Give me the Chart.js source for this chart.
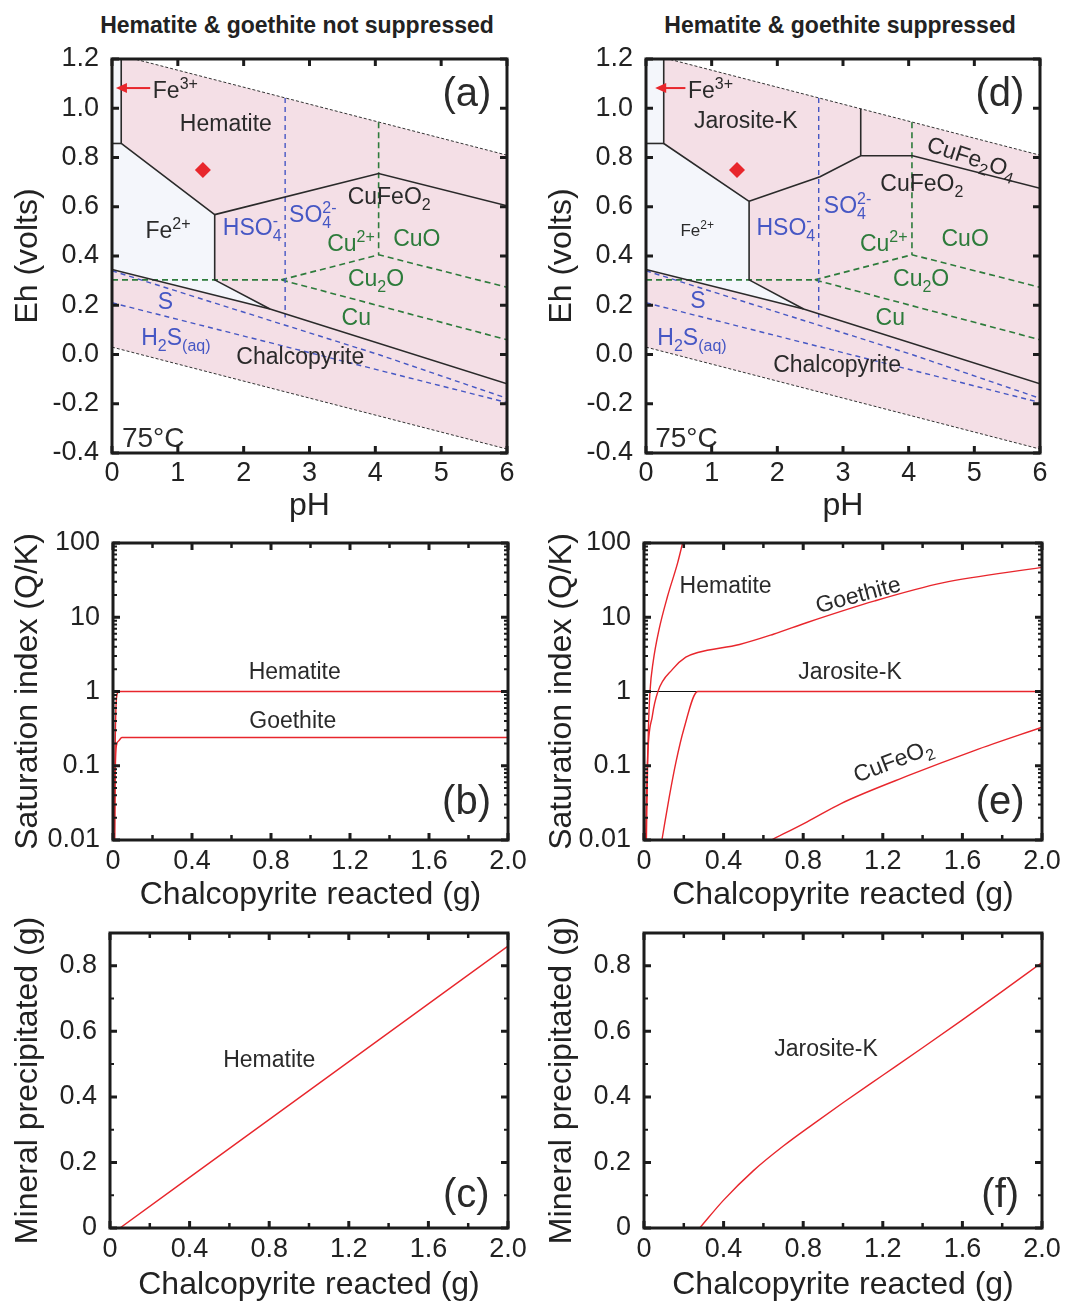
<!DOCTYPE html>
<html>
<head>
<meta charset="utf-8">
<script src="https://cdn.jsdelivr.net/npm/chart.js@4.4.1/dist/chart.umd.min.js"></script>
<style>
  body { margin: 0; background: #fff; width: 1066px; height: 1303px; position: relative; overflow: hidden;
         font-family: 'Liberation Sans', Arial, sans-serif; }
  .panel { position: absolute; }
  .head { position: absolute; top: 12px; font-weight: bold; font-size: 23px; color: #222;
          transform: translateX(-50%); white-space: nowrap; }
</style>
</head>
<body>
<div class="head" style="left:297px">Hematite &amp; goethite not suppressed</div>
<div class="head" style="left:840px">Hematite &amp; goethite suppressed</div>
<div class="panel" style="left:0;top:40px;width:530px;height:485px"><canvas id="pa"></canvas></div>
<div class="panel" style="left:534px;top:40px;width:530px;height:485px"><canvas id="pd"></canvas></div>
<div class="panel" style="left:0;top:525px;width:530px;height:390px"><canvas id="pb"></canvas></div>
<div class="panel" style="left:534px;top:525px;width:530px;height:390px"><canvas id="pe"></canvas></div>
<div class="panel" style="left:0;top:915px;width:530px;height:388px"><canvas id="pc"></canvas></div>
<div class="panel" style="left:534px;top:915px;width:530px;height:388px"><canvas id="pf"></canvas></div>
<script>
// ---- Eh-pH diagrams, points are [pH, Eh (V)] ----
const waterUpper = [[0, 1.2235], [6, 0.8095]];
const waterLower = [[0, 0.03], [6, -0.384]];
const waterField = [[0, 1.2235], [6, 0.8095], [6, -0.384], [0, 0.03]];
const chalcopyriteEdge = [[0, 0.345], [2.4, 0.185], [6, -0.119]];
const sulfateEdge = [[2.63, 1.042], [2.63, 0.15]];
const sulfurUpper = [[0, 0.34], [4.07, -0.002], [6, -0.178]];
const sulfurLower = [[0, 0.21], [6, -0.195]];
const cuMetalEdge = [[0, 0.303], [2.57, 0.303], [6, 0.06]];
const cu2oEdge = [[2.57, 0.303], [4.05, 0.405], [6, 0.273]];
const cuoEdge = [[4.05, 0.943], [4.05, 0.405]];

// (a) hematite & goethite allowed
const aFe3Field = [[0, 1.2235], [0.14, 1.2235], [0.14, 0.857], [0, 0.857]];
const aFe2Field = [[0, 0.857], [0.14, 0.857], [1.56, 0.568], [1.56, 0.303], [2.4, 0.185], [0, 0.345]];
const aFe3Floor = [[0, 0.857], [0.14, 0.857]];
const aHematiteEdge = [[0.14, 1.2235], [0.14, 0.857], [1.56, 0.568], [1.56, 0.303], [2.4, 0.185]];
const aCuFeO2Edge = [[1.56, 0.568], [4.05, 0.735], [6, 0.604]];
const aSample = [[1.38, 0.749]];

// (d) hematite & goethite suppressed
const dFe3Field = [[0, 1.2235], [0.27, 1.2235], [0.27, 0.857], [0, 0.857]];
const dFe2Field = [[0, 0.857], [0.27, 0.857], [1.57, 0.622], [1.57, 0.303], [2.4, 0.185], [0, 0.345]];
const dFe3Floor = [[0, 0.857], [0.27, 0.857]];
const dJarositeEdge = [[0.27, 1.2235], [0.27, 0.857], [1.57, 0.622], [1.57, 0.303], [2.4, 0.185]];
const dCuFeO2Edge = [[1.57, 0.622], [2.65, 0.722], [3.27, 0.807], [4.06, 0.807], [6, 0.675]];
const dCuFe2O4Edge = [[3.27, 0.998], [3.27, 0.807]];
const dSample = [[1.386, 0.749]];

// ---- saturation index vs chalcopyrite reacted (g) ----
const bHematite = [[0.008, 0.01], [0.01, 0.1], [0.014, 0.5], [0.02, 0.9], [0.03, 1.0], [2.0, 1.0]];
const bGoethite = [[0.008, 0.01], [0.012, 0.1], [0.02, 0.2], [0.028, 0.215], [0.045, 0.24], [2.0, 0.24]];
const eHematite = [[0.012, 0.01], [0.018, 0.1], [0.022, 0.31], [0.03, 1], [0.046, 2.5], [0.076, 6.9], [0.118, 19], [0.169, 54], [0.194, 100]];
const eGoethite = [[0.008, 0.01], [0.017, 0.11], [0.042, 0.47], [0.07, 1.0], [0.144, 2.0], [0.21, 2.9], [0.27, 3.35], [0.48, 4.3], [0.65, 5.9], [0.82, 8.5], [1.16, 16.6], [1.5, 29], [2.0, 47]];
const eJarosite = [[0.09, 0.01], [0.127, 0.038], [0.16, 0.11], [0.2, 0.31], [0.27, 1], [2.0, 1]];
const eUnity = [[0, 1], [0.27, 1]];
const eCuFeO2 = [[0.64, 0.01], [0.82, 0.0176], [0.99, 0.031], [1.33, 0.074], [1.66, 0.16], [2.0, 0.33]];

// ---- mineral precipitated (g) ----
const cHematite = [[0.05, 0], [1.0, 0.419], [2.0, 0.86]];
const fJarosite = [[0.28, 0], [0.4, 0.085], [0.55, 0.175], [0.7, 0.25], [0.85, 0.317], [1.0, 0.382], [1.2, 0.466], [1.4, 0.55], [1.6, 0.635], [1.8, 0.722], [2.0, 0.81]];

// ---- ticks ----
const phTicks = [0, 1, 2, 3, 4, 5, 6];
const phLabels = ['0', '1', '2', '3', '4', '5', '6'];
const ehTicks = [-0.4, -0.2, 0, 0.2, 0.4, 0.6, 0.8, 1.0, 1.2];
const ehLabels = ['-0.4', '-0.2', '0.0', '0.2', '0.4', '0.6', '0.8', '1.0', '1.2'];
const massTicks = [0, 0.4, 0.8, 1.2, 1.6, 2.0];
const massLabels = ['0', '0.4', '0.8', '1.2', '1.6', '2.0'];
const massMinor = [0.2, 0.6, 1.0, 1.4, 1.8];
const siTicks = [0.01, 0.1, 1, 10, 100];
const siLabels = ['0.01', '0.1', '1', '10', '100'];
const precTicks = [0, 0.2, 0.4, 0.6, 0.8];
const precLabels = ['0', '0.2', '0.4', '0.6', '0.8'];
const precMinor = [0.1, 0.3, 0.5, 0.7];

const FONT = "'Liberation Sans', Arial, sans-serif";
Chart.defaults.font.family = FONT;
Chart.defaults.color = '#222';

const PINK = '#f4dfe6';
const PALE = '#f4f6fb';
const BLUE = '#4657c4';
const GREEN = '#2d7b3b';
const RED = '#e8262c';
const INK = '#2a2a2a';

const pts = arr => arr.map(([x, y]) => ({x, y}));
const line = (arr, color, width, dash, order) => ({
  data: pts(arr), showLine: true, borderColor: color, borderWidth: width, borderDash: dash || [],
  pointRadius: 0, fill: false, tension: 0, order: order || 1
});
const curve = arr => Object.assign(line(arr, RED, 1.4), {cubicInterpolationMode: 'monotone'});
const area = (arr, color, order) => ({
  data: pts(arr), showLine: true, borderColor: 'rgba(0,0,0,0)', borderWidth: 1, backgroundColor: color,
  fill: 'shape', pointRadius: 0, tension: 0, order
});
const marker = arr => ({
  data: pts(arr), showLine: false, pointStyle: 'rectRot', pointRadius: 8, backgroundColor: RED,
  borderWidth: 0, order: 0
});

// rich text: _{sub} ^{sup}, sub immediately followed by sup is stacked
function richParts(s) {
  const parts = [];
  const re = /_\{([^}]*)\}\^\{([^}]*)\}|_\{([^}]*)\}|\^\{([^}]*)\}|([^_^]+)/g;
  let m;
  while ((m = re.exec(s))) {
    if (m[1] !== undefined) parts.push({sub: m[1], sup: m[2]});
    else if (m[3] !== undefined) parts.push({sub: m[3]});
    else if (m[4] !== undefined) parts.push({sup: m[4]});
    else parts.push({t: m[5]});
  }
  return parts;
}

function drawRich(ctx, text, x, y, size, color, align, rot) {
  const parts = richParts(text);
  const big = size + 'px ' + FONT;
  const small = Math.round(size * 0.68) + 'px ' + FONT;
  const widths = parts.map(p => {
    if (p.t !== undefined) { ctx.font = big; return ctx.measureText(p.t).width; }
    ctx.font = small;
    return Math.max(p.sub ? ctx.measureText(p.sub).width : 0, p.sup ? ctx.measureText(p.sup).width : 0);
  });
  const total = widths.reduce((a, b) => a + b, 0);
  ctx.save();
  ctx.translate(x, y);
  if (rot) ctx.rotate(rot * Math.PI / 180);
  ctx.fillStyle = color;
  ctx.textAlign = 'left';
  ctx.textBaseline = 'alphabetic';
  let cx = align === 'left' ? 0 : -total / 2;
  const base = size * 0.36;
  parts.forEach((p, i) => {
    if (p.t !== undefined) { ctx.font = big; ctx.fillText(p.t, cx, base); }
    else {
      ctx.font = small;
      if (p.sub) ctx.fillText(p.sub, cx, base + size * 0.24);
      if (p.sup) ctx.fillText(p.sup, cx, base - size * 0.42);
    }
    cx += widths[i];
  });
  ctx.restore();
}

const notesPlugin = notes => ({
  id: 'notes',
  afterDatasetsDraw(chart) {
    const {ctx, scales: {x, y}} = chart;
    notes.forEach(n => {
      if (n.arrow) {
        const [x0, y0, x1, y1] = n.arrow;
        const px0 = x.getPixelForValue(x0), py0 = y.getPixelForValue(y0);
        const px1 = x.getPixelForValue(x1), py1 = y.getPixelForValue(y1);
        ctx.save();
        ctx.strokeStyle = RED; ctx.fillStyle = RED; ctx.lineWidth = 2;
        ctx.beginPath(); ctx.moveTo(px0, py0); ctx.lineTo(px1 + 6, py1); ctx.stroke();
        ctx.beginPath(); ctx.moveTo(px1, py1); ctx.lineTo(px1 + 11, py1 - 5); ctx.lineTo(px1 + 11, py1 + 5);
        ctx.closePath(); ctx.fill();
        ctx.restore();
        return;
      }
      drawRich(ctx, n.text, x.getPixelForValue(n.x), y.getPixelForValue(n.y), n.size || 23,
               n.color || INK, n.align, n.rot);
    });
  }
});

const frameTicks = marks => ({
  id: 'frameTicks',
  afterDatasetsDraw(chart) {
    const {ctx, chartArea: a, scales: {x, y}} = chart;
    ctx.save();
    ctx.strokeStyle = '#1c1c1c';
    const xt = (vals, len, w) => {
      ctx.lineWidth = w;
      vals.forEach(v => {
        const p = x.getPixelForValue(v);
        ctx.beginPath();
        ctx.moveTo(p, a.bottom); ctx.lineTo(p, a.bottom - len);
        ctx.moveTo(p, a.top); ctx.lineTo(p, a.top + len);
        ctx.stroke();
      });
    };
    const yt = (vals, len, w) => {
      ctx.lineWidth = w;
      vals.forEach(v => {
        const p = y.getPixelForValue(v);
        ctx.beginPath();
        ctx.moveTo(a.left, p); ctx.lineTo(a.left + len, p);
        ctx.moveTo(a.right, p); ctx.lineTo(a.right - len, p);
        ctx.stroke();
      });
    };
    xt(marks.xMajor, 7, 3);
    xt(marks.xMinor || [], 5, 2.5);
    yt(marks.yMajor, 7, 3);
    yt(marks.yMinor || [], 4, 2);
    ctx.lineWidth = 3;
    ctx.strokeRect(a.left, a.top, a.width, a.height);
    ctx.restore();
  }
});

function makePanel(id, c) {
  return new Chart(document.getElementById(id), {
    type: 'scatter',
    data: {datasets: c.datasets},
    options: {
      responsive: true, maintainAspectRatio: false, animation: false,
      layout: {padding: {top: c.padTop, right: c.padRight, left: 0, bottom: 0}},
      plugins: {legend: {display: false}, tooltip: {enabled: false}},
      scales: {
        x: {
          type: 'linear', min: c.xMin, max: c.xMax,
          grid: {display: false, drawTicks: false}, border: {display: false},
          afterBuildTicks: s => { s.ticks = c.xTicks.map(v => ({value: v})); },
          afterFit: s => { s.height = c.xAxisH; s.paddingLeft = 0; s.paddingRight = 0; },
          ticks: {autoSkip: false, maxRotation: 0, minRotation: 0, padding: c.xTickPad, font: {size: 27},
                  callback: (v, i) => c.xLabels[i]},
          title: {display: true, text: c.xTitle, font: {size: 32, lineHeight: 1},
                  padding: {top: 0, bottom: c.xTitlePad}}
        },
        y: {
          type: c.yType || 'linear', min: c.yMin, max: c.yMax,
          grid: {display: false, drawTicks: false}, border: {display: false},
          afterBuildTicks: s => { s.ticks = c.yTicks.map(v => ({value: v})); },
          afterFit: s => { s.width = c.yAxisW; s.paddingTop = 0; s.paddingBottom = 0; },
          ticks: {autoSkip: false, padding: 13, font: {size: 27}, callback: (v, i) => c.yLabels[i]},
          title: {display: true, text: c.yTitle, font: {size: 32, lineHeight: 1},
                  padding: {top: 12, bottom: 0}}
        }
      }
    },
    plugins: [notesPlugin(c.notes), frameTicks(c.marks)]
  });
}

function ehDatasets(fe3, fe2, floor, ironEdge, extra) {
  return [
    marker(extra.sample),
    line(ironEdge, INK, 1.6, null, 2),
    line(floor, INK, 1.6, null, 2),
    line(chalcopyriteEdge, INK, 1.6, null, 2),
    ...extra.edges.map(e => line(e, INK, 1.6, null, 2)),
    line(sulfateEdge, BLUE, 1.4, [5, 4], 3),
    line(sulfurUpper, BLUE, 1.4, [5, 4], 3),
    line(sulfurLower, BLUE, 1.4, [5, 4], 3),
    line(cuMetalEdge, GREEN, 1.6, [6, 4], 3),
    line(cu2oEdge, GREEN, 1.6, [6, 4], 3),
    line(cuoEdge, GREEN, 1.6, [6, 4], 3),
    line(waterUpper, '#333', 1, [3, 2], 4),
    line(waterLower, '#333', 1, [3, 2], 4),
    area(fe3, PALE, 50),
    area(fe2, PALE, 50),
    area(waterField, PINK, 60)
  ];
}

const ehBase = {
  xMin: 0, xMax: 6, xTicks: phTicks, xLabels: phLabels, xTitle: 'pH',
  yMin: -0.4, yMax: 1.2, yTicks: ehTicks, yLabels: ehLabels, yTitle: 'Eh (volts)',
  padTop: 19, xAxisH: 72, xTickPad: 4, xTitlePad: 3,
  marks: {xMajor: phTicks, yMajor: ehTicks}
};

makePanel('pa', Object.assign({}, ehBase, {
  yAxisW: 112, padRight: 23,
  datasets: ehDatasets(aFe3Field, aFe2Field, aFe3Floor, aHematiteEdge, {sample: aSample, edges: [aCuFeO2Edge]}),
  notes: [
    {arrow: [0.58, 1.082, 0.06, 1.082]},
    {text: 'Fe^{3+}', x: 0.62, y: 1.074, align: 'left'},
    {text: 'Hematite', x: 1.73, y: 0.94},
    {text: 'Fe^{2+}', x: 0.85, y: 0.506},
    {text: 'HSO_{4}^{-}', x: 2.13, y: 0.518, color: BLUE},
    {text: 'SO_{4}^{2-}', x: 3.05, y: 0.57, color: BLUE},
    {text: 'CuFeO_{2}', x: 4.21, y: 0.643},
    {text: 'Cu^{2+}', x: 3.63, y: 0.453, color: GREEN},
    {text: 'CuO', x: 4.63, y: 0.473, color: GREEN},
    {text: 'Cu_{2}O', x: 4.01, y: 0.311, color: GREEN},
    {text: 'Cu', x: 3.71, y: 0.152, color: GREEN},
    {text: 'S', x: 0.81, y: 0.217, color: BLUE},
    {text: 'H_{2}S_{(aq)}', x: 0.97, y: 0.071, color: BLUE},
    {text: 'Chalcopyrite', x: 2.86, y: -0.006},
    {text: '75°C', x: 0.15, y: -0.335, size: 28, align: 'left'},
    {text: '(a)', x: 5.39, y: 1.066, size: 40}
  ]
}));

makePanel('pd', Object.assign({}, ehBase, {
  yAxisW: 112, padRight: 24,
  datasets: ehDatasets(dFe3Field, dFe2Field, dFe3Floor, dJarositeEdge, {sample: dSample, edges: [dCuFeO2Edge, dCuFe2O4Edge]}),
  notes: [
    {arrow: [0.6, 1.082, 0.14, 1.082]},
    {text: 'Fe^{3+}', x: 0.64, y: 1.074, align: 'left'},
    {text: 'Jarosite-K', x: 1.52, y: 0.952},
    {text: 'Fe^{2+}', x: 0.78, y: 0.506, size: 17},
    {text: 'HSO_{4}^{-}', x: 2.13, y: 0.518, color: BLUE},
    {text: 'SO_{4}^{2-}', x: 3.07, y: 0.607, color: BLUE},
    {text: 'CuFeO_{2}', x: 4.2, y: 0.696},
    {text: 'CuFe_{2}O_{4}', x: 4.96, y: 0.802, rot: 18},
    {text: 'Cu^{2+}', x: 3.62, y: 0.453, color: GREEN},
    {text: 'CuO', x: 4.86, y: 0.473, color: GREEN},
    {text: 'Cu_{2}O', x: 4.19, y: 0.311, color: GREEN},
    {text: 'Cu', x: 3.72, y: 0.152, color: GREEN},
    {text: 'S', x: 0.79, y: 0.221, color: BLUE},
    {text: 'H_{2}S_{(aq)}', x: 0.7, y: 0.071, color: BLUE},
    {text: 'Chalcopyrite', x: 2.91, y: -0.039},
    {text: '75°C', x: 0.14, y: -0.335, size: 28, align: 'left'},
    {text: '(d)', x: 5.39, y: 1.066, size: 40}
  ]
}));

const logMinor = [];
[0.01, 0.1, 1, 10].forEach(d => { for (let k = 2; k <= 9; k++) logMinor.push(d * k); });

const siBase = {
  xMin: 0, xMax: 2, xTicks: massTicks, xLabels: massLabels, xTitle: 'Chalcopyrite reacted (g)',
  yType: 'logarithmic', yMin: 0.01, yMax: 100, yTicks: siTicks, yLabels: siLabels, yTitle: 'Saturation index (Q/K)',
  padTop: 18, padRight: 22, xAxisH: 75, xTickPad: 5, xTitlePad: 4,
  marks: {xMajor: massTicks, xMinor: massMinor, yMajor: siTicks, yMinor: logMinor}
};

makePanel('pb', Object.assign({}, siBase, {
  yAxisW: 113,
  datasets: [curve(bHematite), curve(bGoethite)],
  notes: [
    {text: 'Hematite', x: 0.92, y: 1.89},
    {text: 'Goethite', x: 0.91, y: 0.413},
    {text: '(b)', x: 1.79, y: 0.0346, size: 40}
  ]
}));

makePanel('pe', Object.assign({}, siBase, {
  yAxisW: 110,
  datasets: [curve(eHematite), curve(eGoethite), curve(eJarosite), curve(eCuFeO2),
             line(eUnity, '#111', 1.2, null, 2)],
  notes: [
    {text: 'Hematite', x: 0.41, y: 27.2},
    {text: 'Goethite', x: 1.075, y: 20.6, rot: -15},
    {text: 'Jarosite-K', x: 1.035, y: 1.89},
    {text: 'CuFeO_{2}', x: 1.25, y: 0.119, rot: -21},
    {text: '(e)', x: 1.79, y: 0.0346, size: 40}
  ]
}));

const precBase = {
  xMin: 0, xMax: 2, xTicks: massTicks, xLabels: massLabels, xTitle: 'Chalcopyrite reacted (g)',
  yMin: 0, yMax: 0.9, yTicks: precTicks, yLabels: precLabels, yTitle: 'Mineral precipitated (g)',
  padTop: 18, padRight: 22, xAxisH: 75, xTickPad: 5, xTitlePad: 2,
  marks: {xMajor: massTicks, xMinor: massMinor, yMajor: precTicks, yMinor: precMinor}
};

makePanel('pc', Object.assign({}, precBase, {
  yAxisW: 110,
  datasets: [curve(cHematite)],
  notes: [
    {text: 'Hematite', x: 0.8, y: 0.517},
    {text: '(c)', x: 1.79, y: 0.109, size: 40}
  ]
}));

makePanel('pf', Object.assign({}, precBase, {
  yAxisW: 110,
  datasets: [curve(fJarosite)],
  notes: [
    {text: 'Jarosite-K', x: 0.915, y: 0.55},
    {text: '(f)', x: 1.79, y: 0.109, size: 40}
  ]
}));
</script>
</body>
</html>
